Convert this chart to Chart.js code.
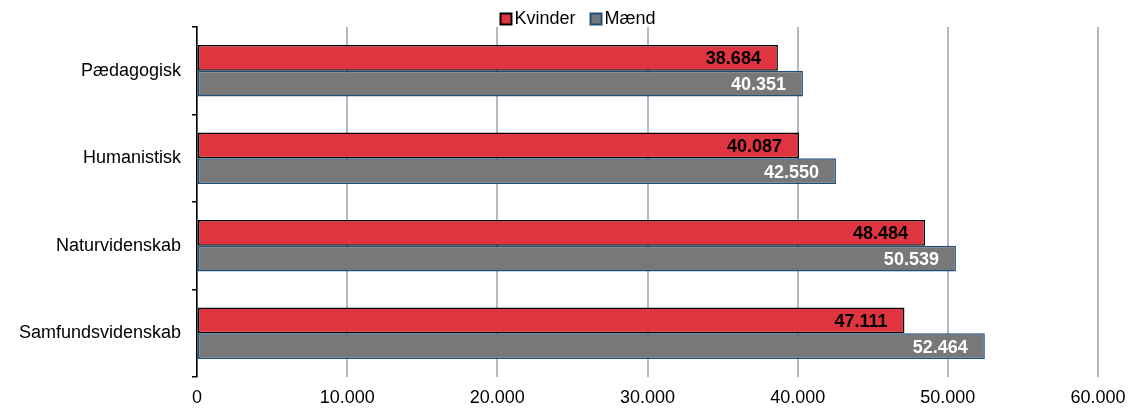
<!DOCTYPE html>
<html><head><meta charset="utf-8">
<script src="https://cdn.jsdelivr.net/npm/chart.js@4/dist/chart.umd.min.js"></script>
<style>html,body{margin:0;padding:0;background:#fff}#w{width:1132px;height:408px}</style>
</head><body><div id="w"><canvas id="c"></canvas></div>
<script>
const categories = ["Pædagogisk", "Humanistisk", "Naturvidenskab", "Samfundsvidenskab"];
const kvinder = [38684, 40087, 48484, 47111];
const maend = [40351, 42550, 50539, 52464];
const seriesNames = ["Kvinder", "Mænd"];
const xTicks = [0, 10000, 20000, 30000, 40000, 50000, 60000];

const fmt = v => Math.round(v).toString().replace(/\B(?=(\d{3})+(?!\d))/g, ".");
const FONT = "'Liberation Sans', Arial, sans-serif";

const labelPlugin = {
  id: 'vals',
  afterDatasetsDraw(chart) {
    const ctx = chart.ctx;
    ctx.save();
    ctx.font = "bold 18px " + FONT;
    ctx.textAlign = 'right';
    ctx.textBaseline = 'middle';
    chart.data.datasets.forEach((ds, i) => {
      const meta = chart.getDatasetMeta(i);
      ctx.fillStyle = i === 0 ? '#000' : '#fff';
      meta.data.forEach((bar, j) => {
        ctx.fillText(fmt(ds.data[j]), bar.x - 17, bar.y + 1.5);
      });
    });
    ctx.restore();
  }
};

const legendPlugin = {
  id: 'customLegend',
  afterDraw(chart) {
    const ctx = chart.ctx;
    ctx.save();
    ctx.font = "18px " + FONT;
    ctx.textBaseline = 'middle';
    ctx.textAlign = 'left';
    const items = chart.data.datasets.map(ds => ({ text: ds.label, fill: ds.backgroundColor, stroke: ds.borderColor }));
    const box = 11, gap = 3, between = 15;
    let total = 0;
    items.forEach((it, k) => { total += box + gap + ctx.measureText(it.text).width + (k < items.length - 1 ? between : 0); });
    let x = 578 - total / 2;
    const cy = 19;
    items.forEach(it => {
      ctx.fillStyle = it.fill;
      ctx.fillRect(x, cy - 5.5, box, box);
      ctx.strokeStyle = it.stroke;
      ctx.lineWidth = 2;
      ctx.strokeRect(x, cy - 5.5, box, box);
      x += box + gap;
      ctx.fillStyle = '#000';
      ctx.fillText(it.text, x, cy);
      x += ctx.measureText(it.text).width + between;
    });
    ctx.restore();
  }
};

new Chart(document.getElementById('c'), {
  type: 'bar',
  data: {
    labels: categories,
    datasets: [
      { label: seriesNames[0], data: kvinder, backgroundColor: '#e03540', borderColor: '#000000', borderWidth: 1.5, borderSkipped: false },
      { label: seriesNames[1], data: maend, backgroundColor: '#787878', borderColor: '#1f4e79', borderWidth: 1.5, borderSkipped: false }
    ]
  },
  options: {
    indexAxis: 'y',
    responsive: true,
    maintainAspectRatio: false,
    animation: false,
    datasets: { bar: { categoryPercentage: 0.59, barPercentage: 1.0 } },
    layout: { padding: { left: 0, right: 34, top: 27, bottom: 0 } },
    plugins: {
      legend: { display: false },
      tooltip: { enabled: false }
    },
    scales: {
      x: {
        min: 0, max: 60000,
        afterBuildTicks: s => { s.ticks = xTicks.map(v => ({ value: v })); },
        afterFit: s => { s.height = 31; s.paddingRight = 0; s.paddingLeft = 0; },
        ticks: { callback: v => fmt(v), font: { family: FONT, size: 18 }, color: '#000', padding: 10, maxRotation: 0 },
        grid: { color: '#b4b8c4', lineWidth: 2, drawTicks: false },
        border: { display: false }
      },
      y: {
        afterFit: s => { s.width = 197; },
        ticks: { font: { family: FONT, size: 18 }, color: '#000', padding: 11 },
        grid: { drawOnChartArea: false, drawTicks: true, tickLength: 5, color: '#000', offset: true, lineWidth: 1.5 },
        border: { display: true, color: '#000', width: 1.5 }
      }
    }
  },
  plugins: [labelPlugin, legendPlugin]
});
</script></body></html>
